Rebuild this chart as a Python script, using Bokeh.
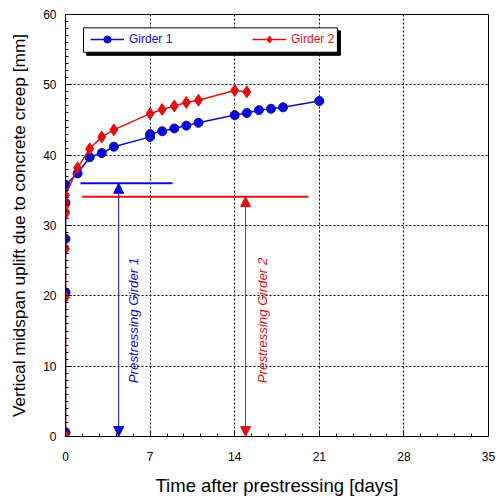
from bokeh.plotting import figure
from bokeh.models import (Range1d, SingleIntervalTicker, Legend, LegendItem, BoxAnnotation,
                          Arrow, NormalHead, Label)
from bokeh.embed import file_html
from bokeh.resources import INLINE

# ---- data ----
g1_days = [0, 0, 0, 0, 0, 1, 2, 3, 4, 7, 7, 8, 9, 10, 11, 14, 15, 16, 17, 18, 21]
g1_uplift = [0.6, 20.5, 28.1, 33.2, 35.8, 37.4, 39.7, 40.3, 41.2, 42.6, 43.0, 43.4, 43.8,
             44.2, 44.6, 45.7, 46.0, 46.4, 46.6, 46.8, 47.7]
g2_days = [0, 0, 0, 0, 0, 0, 0, 1, 2, 3, 4, 7, 8, 9, 10, 11, 14, 15]
g2_uplift = [0.0, 19.8, 26.7, 31.7, 32.0, 32.9, 34.3, 38.2, 40.9, 42.6, 43.6, 45.9, 46.5,
             47.0, 47.5, 47.8, 49.2, 49.0]
# prestressing reference levels [mm] and extents [days]
ps1_level = 36.0
ps1_span = [1.24, 8.85]
ps1_arrow_day = 4.4
ps2_level = 34.1
ps2_span = [1.38, 20.1]
ps2_arrow_day = 14.9
x_ticks = [0, 7, 14, 21, 28, 35]
y_ticks = [0, 10, 20, 30, 40, 50, 60]

BLUE = "#0a0ad0"
RED = "#e01010"
FONT = "Liberation Sans"

p = figure(width=498, height=500, output_backend="svg", toolbar_location=None,
           x_range=Range1d(0, 35), y_range=Range1d(0, 60),
           min_border_left=65, min_border_right=10, min_border_top=14, min_border_bottom=64)
p.background_fill_color = "white"
p.border_fill_color = "white"
p.outline_line_color = "black"
p.outline_line_width = 1
p.outline_line_alpha = 1

p.xaxis.ticker = SingleIntervalTicker(interval=7, num_minor_ticks=5)
p.yaxis.ticker = SingleIntervalTicker(interval=10, num_minor_ticks=10)
for ax in (p.xaxis[0], p.yaxis[0]):
    ax.major_tick_in = 6
    ax.major_tick_out = 0
    ax.minor_tick_in = 3
    ax.minor_tick_out = 0
    ax.axis_line_color = "black"
    ax.major_tick_line_color = "black"
    ax.minor_tick_line_color = "black"
    ax.major_label_text_font = FONT
    ax.major_label_text_font_size = "12px"
    ax.major_label_text_color = "black"
    ax.axis_label_text_font = FONT
    ax.axis_label_text_font_style = "normal"
    ax.axis_label_text_color = "black"
p.xaxis.axis_label_text_font_size = "18.5px"
p.yaxis.axis_label_text_font_size = "17.3px"
p.xaxis.axis_label = "Time after prestressing [days]"
p.yaxis.axis_label = "Vertical midspan uplift due to concrete creep [mm]"
p.xaxis.major_label_standoff = 15
p.yaxis.major_label_standoff = 9
p.xaxis.axis_label_standoff = 11
p.yaxis.axis_label_standoff = 11

for g in (p.xgrid[0], p.ygrid[0]):
    g.grid_line_color = "black"
    g.grid_line_dash = "2 2"
    g.grid_line_width = 1

# prestressing levels and arrows
p.segment(x0=[ps1_span[0]], y0=[ps1_level], x1=[ps1_span[1]], y1=[ps1_level], line_color=BLUE, line_width=2)
p.segment(x0=[ps2_span[0]], y0=[ps2_level], x1=[ps2_span[1]], y1=[ps2_level], line_color=RED, line_width=2)
p.add_layout(Arrow(x_start=ps1_arrow_day, y_start=0, x_end=ps1_arrow_day, y_end=ps1_level,
                   line_color=BLUE, line_width=1,
                   start=NormalHead(size=10, fill_color=BLUE, line_color=BLUE),
                   end=NormalHead(size=10, fill_color=BLUE, line_color=BLUE)))
p.add_layout(Arrow(x_start=ps2_arrow_day, y_start=0, x_end=ps2_arrow_day, y_end=ps2_level,
                   line_color=RED, line_width=1,
                   start=NormalHead(size=10, fill_color=RED, line_color=RED),
                   end=NormalHead(size=10, fill_color=RED, line_color=RED)))
p.add_layout(Label(x=ps1_arrow_day + 1.2, y=16.5, text="Prestressing Girder 1", angle=90, angle_units="deg",
                   text_align="center", text_baseline="middle", text_font=FONT, text_font_size="13.3px",
                   text_font_style="italic", text_color=BLUE))
p.add_layout(Label(x=ps2_arrow_day + 1.4, y=16.5, text="Prestressing Girder 2", angle=90, angle_units="deg",
                   text_align="center", text_baseline="middle", text_font=FONT, text_font_size="13.3px",
                   text_font_style="italic", text_color=RED))

# series
l1 = p.line(g1_days, g1_uplift, line_color=BLUE, line_width=1.5)
s1 = p.scatter(g1_days, g1_uplift, marker="circle", size=9, fill_color=BLUE, line_color=BLUE)
l2 = p.line(g2_days, g2_uplift, line_color=RED, line_width=1.5)
s2 = p.scatter(g2_days, g2_uplift, marker="diamond", size=12, fill_color=RED, line_color=RED)

# legend box with shadow
p.add_layout(BoxAnnotation(left=1.74, right=22.75, top=57.68, bottom=54.2,
                           fill_color="black", fill_alpha=1, line_color="black", line_alpha=1))
p.add_layout(BoxAnnotation(left=1.49, right=22.5, top=58.1, bottom=54.64,
                           fill_color="white", fill_alpha=1, line_color="black", line_width=1, line_alpha=1))

for items, loc, col in (([LegendItem(label="Girder 1", renderers=[l1, s1])], (25, 388), BLUE),
                        ([LegendItem(label="Girder 2", renderers=[l2, s2])], (187, 388), RED)):
    lg = Legend(items=items, location=loc, orientation="horizontal",
                border_line_alpha=0, background_fill_alpha=0, padding=0, margin=0,
                glyph_width=34, glyph_height=18, label_standoff=5,
                label_text_font=FONT, label_text_font_size="12px", label_text_color=col)
    p.add_layout(lg)

open("out.html", "w").write(file_html(p, INLINE))
